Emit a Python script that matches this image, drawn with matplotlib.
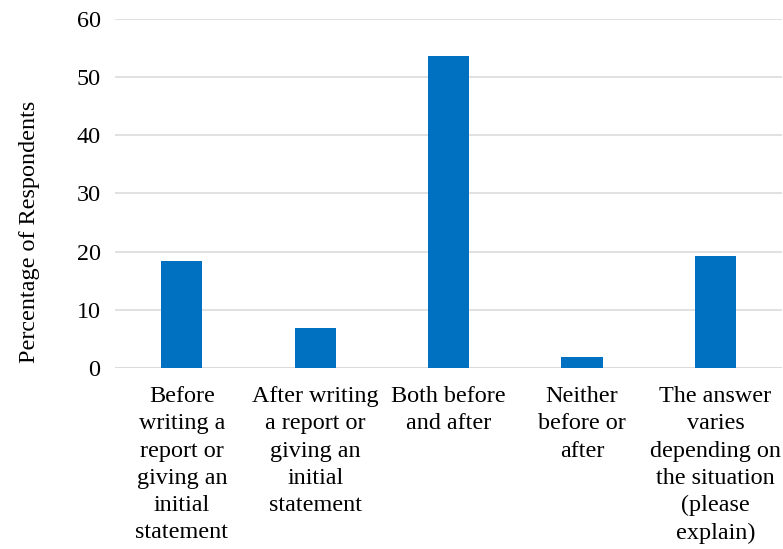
import matplotlib.pyplot as plt

# survey answers and share of respondents (%)
categories = [
    "Before\nwriting a\nreport or\ngiving an\ninitial\nstatement",
    "After writing\na report or\ngiving an\ninitial\nstatement",
    "Both before\nand after",
    "Neither\nbefore or\nafter",
    "The answer\nvaries\ndepending on\nthe situation\n(please\nexplain)",
]
percentages = [18.4, 6.8, 53.6, 1.9, 19.3]
y_ticks = [0, 10, 20, 30, 40, 50, 60]

plt.rcParams['font.family'] = ['Liberation Serif', 'DejaVu Serif']
plt.rcParams['font.size'] = 17.4

fig = plt.figure(figsize=(7.83, 5.49), dpi=100)
ax = fig.add_axes([0.147, 0.3297, 0.852, 0.6357])

x = range(len(categories))
ax.bar(x, percentages, width=0.31, color='#0070C0', zorder=3)

ax.set_xlim(-0.5, len(categories) - 0.5)
ax.set_ylim(0, 60)
ax.set_yticks(y_ticks)
ax.set_xticks(list(x))
ax.set_xticklabels(categories, linespacing=1.39, va='top')
ax.tick_params(axis='both', length=0, colors='#000000')
ax.tick_params(axis='y', pad=10.5)
ax.tick_params(axis='x', pad=13)

ax.grid(axis='y', color='#d9d9d9', linewidth=1.1, zorder=0)
for s in ax.spines.values():
    s.set_visible(False)
ax.axhline(0, color='#d9d9d9', linewidth=1.1, zorder=1)

ax.set_ylabel('Percentage of Respondents')
ax.yaxis.set_label_coords(-0.113, 0.39)

fig.savefig('out.png', dpi=100)
